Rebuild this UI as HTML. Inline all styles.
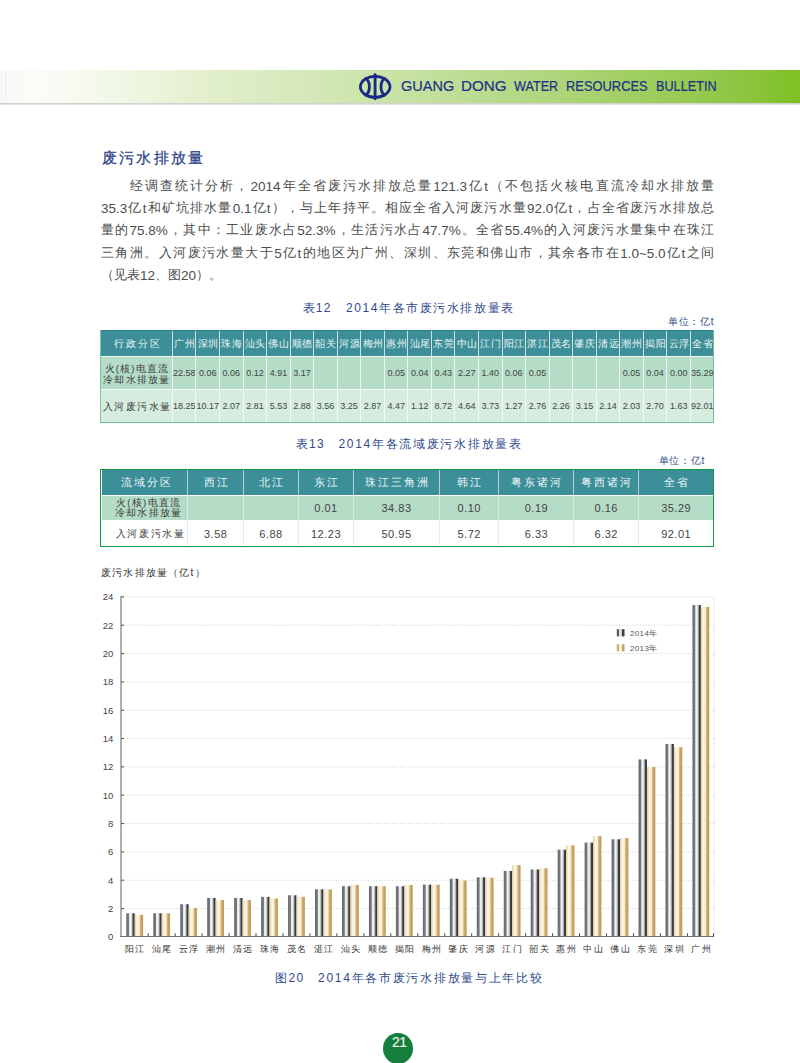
<!DOCTYPE html><html><head><meta charset="utf-8"><style>
*{margin:0;padding:0;box-sizing:border-box}
html,body{width:800px;height:1063px;overflow:hidden;background:#fff}
body{position:relative;font-family:"Liberation Sans",sans-serif;color:#4a4a4a}
.abs{position:absolute}
.band{left:0;top:70px;width:800px;height:33px;
 background:linear-gradient(90deg,#f7f8f5 0%,#fbfcf8 4%,#f2f8e8 14%,#e2efcc 26%,#d6e9bb 37%,#c8e2a4 50%,#b4d886 65%,#a0ce60 80%,#8ec644 92%,#7fc022 100%);}
.bandsh{left:0;top:102.5px;width:800px;height:2.5px;background:linear-gradient(#c8c8c8,#eeeeee)}
.brand{top:78px;font-size:14.5px;color:#1d3184;white-space:nowrap;-webkit-text-stroke:0.2px #1d3184}
.h1{left:101.5px;top:148.5px;font-size:15px;color:#2b3f8c;letter-spacing:2.35px;white-space:nowrap;-webkit-text-stroke:0.25px #2b3f8c}
.para{left:101px;width:613px;font-size:12.5px;color:#4d4d4d;white-space:nowrap}
.line{position:absolute;left:0;width:613px;text-align:justify;text-align-last:justify;height:20px;line-height:20px}
.lat{font-size:13.5px;vertical-align:-0.5px}
.cap{font-size:12px;color:#2f4a8c;white-space:nowrap;letter-spacing:0.8px}
.unit{font-size:10px;color:#2f4a8c;white-space:nowrap;letter-spacing:0.7px}
.c{position:absolute;display:flex;align-items:center;justify-content:center;text-align:center;white-space:nowrap}
.th{color:#eaf6f6;font-size:10.5px;letter-spacing:0.5px}
.td{color:#444;font-size:9px}
.lab{color:#3a3a3a;font-size:10px;line-height:10.5px;letter-spacing:0.6px}
.ax{font-size:9px;color:#333;white-space:nowrap}
</style></head><body><div class="abs band"></div><div class="abs bandsh"></div><div class="abs" style="left:7px;top:73px;width:1.2px;height:29px;background:#ffffff"></div><div class="abs" style="left:6px;top:73px;width:1px;height:29px;background:#ececec"></div>
<svg class="abs" style="left:355px;top:70px" width="42" height="33" viewBox="355 70 42 33">
<g fill="none" stroke="#1b2a86" stroke-width="2.85" stroke-linecap="round">
<ellipse cx="375.2" cy="86.8" rx="14.8" ry="10.5"/>
<line x1="375.1" y1="74.6" x2="375.1" y2="98.8"/>
<path d="M365.8,78.6 C370.6,81.5 370.6,92.1 365.8,95.0"/>
<path d="M384.6,78.6 C379.8,81.5 379.8,92.1 384.6,95.0"/>
</g></svg>
<div class="abs brand" style="left:401px;transform:scaleX(1.0);transform-origin:0 0">GUANG</div>
<div class="abs brand" style="left:461px;transform:scaleX(1.048);transform-origin:0 0">DONG</div>
<div class="abs brand" style="left:514px;transform:scaleX(0.871);transform-origin:0 0">WATER</div>
<div class="abs brand" style="left:565.7px;transform:scaleX(0.889);transform-origin:0 0">RESOURCES</div>
<div class="abs brand" style="left:655.5px;transform:scaleX(0.874);transform-origin:0 0">BULLETIN</div>
<div class="abs h1">废污水排放量</div>
<div class="abs para" style="top:175.8px">
<div class="line" style="top:0.0px;left:29px;width:584px">经调查统计分析，<span class="lat">2014</span>年全省废污水排放总量<span class="lat">121.3</span>亿<span class="lat">t</span>（不包括火核电直流冷却水排放量</div>
<div class="line" style="top:22.3px"><span class="lat">35.3</span>亿<span class="lat">t</span>和矿坑排水量<span class="lat">0.1</span>亿<span class="lat">t</span>），与上年持平。相应全省入河废污水量<span class="lat">92.0</span>亿<span class="lat">t</span>，占全省废污水排放总</div>
<div class="line" style="top:44.6px">量的<span class="lat">75.8%</span>，其中：工业废水占<span class="lat">52.3%</span>，生活污水占<span class="lat">47.7%</span>。全省<span class="lat">55.4%</span>的入河废污水量集中在珠江</div>
<div class="line" style="top:66.9px">三角洲。入河废污水量大于<span class="lat">5</span>亿<span class="lat">t</span>的地区为广州、深圳、东莞和佛山市，其余各市在<span class="lat">1.0~5.0</span>亿<span class="lat">t</span>之间</div>
<div class="line" style="top:89.2px;text-align-last:left">（见表<span class="lat">12</span>、图<span class="lat">20</span>）。</div>
</div>
<div class="abs cap" style="left:302.5px;top:299.5px;letter-spacing:1.3px">表12</div>
<div class="abs cap" style="left:346px;top:299.5px;letter-spacing:1.58px">2014年各市废污水排放量表</div>
<div class="abs unit" style="right:85.7px;top:315px">单位：亿t</div>
<div class="abs" style="left:100px;top:329.5px;width:614px;height:26.80000000000001px;background:#3c8e98;border-top:1px solid #2e7e86"></div>
<div class="abs" style="left:100px;top:356.3px;width:614px;height:33.0px;background:#b4dcc6;border-top:1.5px solid #eef6ee"></div>
<div class="abs" style="left:100px;top:389.3px;width:614px;height:33.30000000000001px;background:#d6ecdf;border-top:1px solid #f0f8f2;border-bottom:1px solid #6bbf9f"></div>
<div class="abs" style="left:100px;top:329.5px;width:1px;height:93.10000000000002px;background:#7cc79a"></div>
<div class="abs" style="left:713px;top:329.5px;width:1px;height:93.10000000000002px;background:#6fbfa0"></div>
<div class="c th" style="left:100px;top:329.5px;width:72.5px;height:26.80000000000001px;font-size:10px;letter-spacing:2px;padding:2px 0 0 3px">行政分区</div>
<div class="c lab" style="left:100px;top:356.3px;width:72.5px;height:33.0px;flex-direction:column;font-size:9.6px;line-height:11.3px;letter-spacing:1.15px;padding:2.5px 0 0 1px">火(核)电直流<br>冷却水排放量</div>
<div class="c lab" style="left:100px;top:389.3px;width:72.5px;height:33.30000000000001px;font-size:9.8px;letter-spacing:1.45px;padding:3px 0 0 2px">入河废污水量</div>
<div class="abs" style="left:171.90px;top:330.5px;width:1px;height:91.60000000000002px;background:rgba(255,255,255,0.75)"></div>
<div class="c th" style="left:172.50px;top:329.5px;width:23.54px;height:26.80000000000001px;font-size:10px;letter-spacing:0.6px;padding:2px 0 0 1px">广州</div>
<div class="c td" style="left:172.50px;top:356.3px;width:23.54px;height:33.0px">22.58</div>
<div class="c td" style="left:172.50px;top:389.3px;width:23.54px;height:33.30000000000001px">18.25</div>
<div class="abs" style="left:195.44px;top:330.5px;width:1px;height:91.60000000000002px;background:rgba(255,255,255,0.75)"></div>
<div class="c th" style="left:196.04px;top:329.5px;width:23.54px;height:26.80000000000001px;font-size:10px;letter-spacing:0.6px;padding:2px 0 0 1px">深圳</div>
<div class="c td" style="left:196.04px;top:356.3px;width:23.54px;height:33.0px">0.06</div>
<div class="c td" style="left:196.04px;top:389.3px;width:23.54px;height:33.30000000000001px">10.17</div>
<div class="abs" style="left:218.99px;top:330.5px;width:1px;height:91.60000000000002px;background:rgba(255,255,255,0.75)"></div>
<div class="c th" style="left:219.59px;top:329.5px;width:23.54px;height:26.80000000000001px;font-size:10px;letter-spacing:0.6px;padding:2px 0 0 1px">珠海</div>
<div class="c td" style="left:219.59px;top:356.3px;width:23.54px;height:33.0px">0.06</div>
<div class="c td" style="left:219.59px;top:389.3px;width:23.54px;height:33.30000000000001px">2.07</div>
<div class="abs" style="left:242.53px;top:330.5px;width:1px;height:91.60000000000002px;background:rgba(255,255,255,0.75)"></div>
<div class="c th" style="left:243.13px;top:329.5px;width:23.54px;height:26.80000000000001px;font-size:10px;letter-spacing:0.6px;padding:2px 0 0 1px">汕头</div>
<div class="c td" style="left:243.13px;top:356.3px;width:23.54px;height:33.0px">0.12</div>
<div class="c td" style="left:243.13px;top:389.3px;width:23.54px;height:33.30000000000001px">2.81</div>
<div class="abs" style="left:266.07px;top:330.5px;width:1px;height:91.60000000000002px;background:rgba(255,255,255,0.75)"></div>
<div class="c th" style="left:266.67px;top:329.5px;width:23.54px;height:26.80000000000001px;font-size:10px;letter-spacing:0.6px;padding:2px 0 0 1px">佛山</div>
<div class="c td" style="left:266.67px;top:356.3px;width:23.54px;height:33.0px">4.91</div>
<div class="c td" style="left:266.67px;top:389.3px;width:23.54px;height:33.30000000000001px">5.53</div>
<div class="abs" style="left:289.62px;top:330.5px;width:1px;height:91.60000000000002px;background:rgba(255,255,255,0.75)"></div>
<div class="c th" style="left:290.22px;top:329.5px;width:23.54px;height:26.80000000000001px;font-size:10px;letter-spacing:0.6px;padding:2px 0 0 1px">顺德</div>
<div class="c td" style="left:290.22px;top:356.3px;width:23.54px;height:33.0px">3.17</div>
<div class="c td" style="left:290.22px;top:389.3px;width:23.54px;height:33.30000000000001px">2.88</div>
<div class="abs" style="left:313.16px;top:330.5px;width:1px;height:91.60000000000002px;background:rgba(255,255,255,0.75)"></div>
<div class="c th" style="left:313.76px;top:329.5px;width:23.54px;height:26.80000000000001px;font-size:10px;letter-spacing:0.6px;padding:2px 0 0 1px">韶关</div>
<div class="c td" style="left:313.76px;top:389.3px;width:23.54px;height:33.30000000000001px">3.56</div>
<div class="abs" style="left:336.70px;top:330.5px;width:1px;height:91.60000000000002px;background:rgba(255,255,255,0.75)"></div>
<div class="c th" style="left:337.30px;top:329.5px;width:23.54px;height:26.80000000000001px;font-size:10px;letter-spacing:0.6px;padding:2px 0 0 1px">河源</div>
<div class="c td" style="left:337.30px;top:389.3px;width:23.54px;height:33.30000000000001px">3.25</div>
<div class="abs" style="left:360.25px;top:330.5px;width:1px;height:91.60000000000002px;background:rgba(255,255,255,0.75)"></div>
<div class="c th" style="left:360.85px;top:329.5px;width:23.54px;height:26.80000000000001px;font-size:10px;letter-spacing:0.6px;padding:2px 0 0 1px">梅州</div>
<div class="c td" style="left:360.85px;top:389.3px;width:23.54px;height:33.30000000000001px">2.87</div>
<div class="abs" style="left:383.79px;top:330.5px;width:1px;height:91.60000000000002px;background:rgba(255,255,255,0.75)"></div>
<div class="c th" style="left:384.39px;top:329.5px;width:23.54px;height:26.80000000000001px;font-size:10px;letter-spacing:0.6px;padding:2px 0 0 1px">惠州</div>
<div class="c td" style="left:384.39px;top:356.3px;width:23.54px;height:33.0px">0.05</div>
<div class="c td" style="left:384.39px;top:389.3px;width:23.54px;height:33.30000000000001px">4.47</div>
<div class="abs" style="left:407.33px;top:330.5px;width:1px;height:91.60000000000002px;background:rgba(255,255,255,0.75)"></div>
<div class="c th" style="left:407.93px;top:329.5px;width:23.54px;height:26.80000000000001px;font-size:10px;letter-spacing:0.6px;padding:2px 0 0 1px">汕尾</div>
<div class="c td" style="left:407.93px;top:356.3px;width:23.54px;height:33.0px">0.04</div>
<div class="c td" style="left:407.93px;top:389.3px;width:23.54px;height:33.30000000000001px">1.12</div>
<div class="abs" style="left:430.88px;top:330.5px;width:1px;height:91.60000000000002px;background:rgba(255,255,255,0.75)"></div>
<div class="c th" style="left:431.48px;top:329.5px;width:23.54px;height:26.80000000000001px;font-size:10px;letter-spacing:0.6px;padding:2px 0 0 1px">东莞</div>
<div class="c td" style="left:431.48px;top:356.3px;width:23.54px;height:33.0px">0.43</div>
<div class="c td" style="left:431.48px;top:389.3px;width:23.54px;height:33.30000000000001px">8.72</div>
<div class="abs" style="left:454.42px;top:330.5px;width:1px;height:91.60000000000002px;background:rgba(255,255,255,0.75)"></div>
<div class="c th" style="left:455.02px;top:329.5px;width:23.54px;height:26.80000000000001px;font-size:10px;letter-spacing:0.6px;padding:2px 0 0 1px">中山</div>
<div class="c td" style="left:455.02px;top:356.3px;width:23.54px;height:33.0px">2.27</div>
<div class="c td" style="left:455.02px;top:389.3px;width:23.54px;height:33.30000000000001px">4.64</div>
<div class="abs" style="left:477.97px;top:330.5px;width:1px;height:91.60000000000002px;background:rgba(255,255,255,0.75)"></div>
<div class="c th" style="left:478.57px;top:329.5px;width:23.54px;height:26.80000000000001px;font-size:10px;letter-spacing:0.6px;padding:2px 0 0 1px">江门</div>
<div class="c td" style="left:478.57px;top:356.3px;width:23.54px;height:33.0px">1.40</div>
<div class="c td" style="left:478.57px;top:389.3px;width:23.54px;height:33.30000000000001px">3.73</div>
<div class="abs" style="left:501.51px;top:330.5px;width:1px;height:91.60000000000002px;background:rgba(255,255,255,0.75)"></div>
<div class="c th" style="left:502.11px;top:329.5px;width:23.54px;height:26.80000000000001px;font-size:10px;letter-spacing:0.6px;padding:2px 0 0 1px">阳江</div>
<div class="c td" style="left:502.11px;top:356.3px;width:23.54px;height:33.0px">0.06</div>
<div class="c td" style="left:502.11px;top:389.3px;width:23.54px;height:33.30000000000001px">1.27</div>
<div class="abs" style="left:525.05px;top:330.5px;width:1px;height:91.60000000000002px;background:rgba(255,255,255,0.75)"></div>
<div class="c th" style="left:525.65px;top:329.5px;width:23.54px;height:26.80000000000001px;font-size:10px;letter-spacing:0.6px;padding:2px 0 0 1px">湛江</div>
<div class="c td" style="left:525.65px;top:356.3px;width:23.54px;height:33.0px">0.05</div>
<div class="c td" style="left:525.65px;top:389.3px;width:23.54px;height:33.30000000000001px">2.76</div>
<div class="abs" style="left:548.60px;top:330.5px;width:1px;height:91.60000000000002px;background:rgba(255,255,255,0.75)"></div>
<div class="c th" style="left:549.20px;top:329.5px;width:23.54px;height:26.80000000000001px;font-size:10px;letter-spacing:0.6px;padding:2px 0 0 1px">茂名</div>
<div class="c td" style="left:549.20px;top:389.3px;width:23.54px;height:33.30000000000001px">2.26</div>
<div class="abs" style="left:572.14px;top:330.5px;width:1px;height:91.60000000000002px;background:rgba(255,255,255,0.75)"></div>
<div class="c th" style="left:572.74px;top:329.5px;width:23.54px;height:26.80000000000001px;font-size:10px;letter-spacing:0.6px;padding:2px 0 0 1px">肇庆</div>
<div class="c td" style="left:572.74px;top:389.3px;width:23.54px;height:33.30000000000001px">3.15</div>
<div class="abs" style="left:595.68px;top:330.5px;width:1px;height:91.60000000000002px;background:rgba(255,255,255,0.75)"></div>
<div class="c th" style="left:596.28px;top:329.5px;width:23.54px;height:26.80000000000001px;font-size:10px;letter-spacing:0.6px;padding:2px 0 0 1px">清远</div>
<div class="c td" style="left:596.28px;top:389.3px;width:23.54px;height:33.30000000000001px">2.14</div>
<div class="abs" style="left:619.23px;top:330.5px;width:1px;height:91.60000000000002px;background:rgba(255,255,255,0.75)"></div>
<div class="c th" style="left:619.83px;top:329.5px;width:23.54px;height:26.80000000000001px;font-size:10px;letter-spacing:0.6px;padding:2px 0 0 1px">潮州</div>
<div class="c td" style="left:619.83px;top:356.3px;width:23.54px;height:33.0px">0.05</div>
<div class="c td" style="left:619.83px;top:389.3px;width:23.54px;height:33.30000000000001px">2.03</div>
<div class="abs" style="left:642.77px;top:330.5px;width:1px;height:91.60000000000002px;background:rgba(255,255,255,0.75)"></div>
<div class="c th" style="left:643.37px;top:329.5px;width:23.54px;height:26.80000000000001px;font-size:10px;letter-spacing:0.6px;padding:2px 0 0 1px">揭阳</div>
<div class="c td" style="left:643.37px;top:356.3px;width:23.54px;height:33.0px">0.04</div>
<div class="c td" style="left:643.37px;top:389.3px;width:23.54px;height:33.30000000000001px">2.70</div>
<div class="abs" style="left:666.31px;top:330.5px;width:1px;height:91.60000000000002px;background:rgba(255,255,255,0.75)"></div>
<div class="c th" style="left:666.91px;top:329.5px;width:23.54px;height:26.80000000000001px;font-size:10px;letter-spacing:0.6px;padding:2px 0 0 1px">云浮</div>
<div class="c td" style="left:666.91px;top:356.3px;width:23.54px;height:33.0px">0.00</div>
<div class="c td" style="left:666.91px;top:389.3px;width:23.54px;height:33.30000000000001px">1.63</div>
<div class="abs" style="left:689.86px;top:330.5px;width:1px;height:91.60000000000002px;background:rgba(255,255,255,0.75)"></div>
<div class="c th" style="left:690.46px;top:329.5px;width:23.54px;height:26.80000000000001px;font-size:10px;letter-spacing:0.6px;padding:2px 0 0 1px">全省</div>
<div class="c td" style="left:690.46px;top:356.3px;width:23.54px;height:33.0px">35.29</div>
<div class="c td" style="left:690.46px;top:389.3px;width:23.54px;height:33.30000000000001px">92.01</div>
<div class="abs cap" style="left:295.6px;top:436px;letter-spacing:1.35px">表13</div>
<div class="abs cap" style="left:338.5px;top:436px;letter-spacing:1.7px">2014年各流域废污水排放量表</div>
<div class="abs unit" style="right:95px;top:454px">单位：亿t</div>
<div class="abs" style="left:100px;top:468.5px;width:614px;height:78.25px;border:1.6px solid #0e9a45;background:#fff"></div>
<div class="abs" style="left:101.5px;top:470.0px;width:611px;height:24.5px;background:#3c8e98"></div>
<div class="abs" style="left:101.5px;top:496.0px;width:611px;height:24.0px;background:#b4dcc6"></div>
<div class="c th" style="left:100px;top:468.5px;width:87.4px;height:26.0px;font-size:11px;letter-spacing:2px;padding:2px 0 0 6px">流域分区</div>
<div class="c lab" style="left:100px;top:494.5px;width:87.4px;height:25.5px;flex-direction:column;line-height:10px;font-size:9.6px;letter-spacing:1.3px;padding:2px 0 0 10px">火(核)电直流<br>冷却水排放量</div>
<div class="c lab" style="left:100px;top:520px;width:87.4px;height:26.75px;font-size:9.6px;letter-spacing:1.6px;padding:1px 0 0 14px">入河废污水量</div>
<div class="abs" style="left:186.9px;top:470.0px;width:1px;height:24.5px;background:rgba(255,255,255,0.6)"></div>
<div class="abs" style="left:186.9px;top:496.0px;width:1px;height:49.25px;background:rgba(225,235,230,0.9)"></div>
<div class="c th" style="left:187.4px;top:468.5px;width:55.599999999999994px;height:26.0px;font-size:11px;letter-spacing:2px;padding:2px 0 0 3px">西江</div>
<div class="c td" style="left:187.4px;top:520px;width:55.599999999999994px;height:26.75px;font-size:11px;letter-spacing:0.5px;padding:1px 0 0 1px">3.58</div>
<div class="abs" style="left:242.5px;top:470.0px;width:1px;height:24.5px;background:rgba(255,255,255,0.6)"></div>
<div class="abs" style="left:242.5px;top:496.0px;width:1px;height:49.25px;background:rgba(225,235,230,0.9)"></div>
<div class="c th" style="left:243px;top:468.5px;width:55px;height:26.0px;font-size:11px;letter-spacing:2px;padding:2px 0 0 3px">北江</div>
<div class="c td" style="left:243px;top:520px;width:55px;height:26.75px;font-size:11px;letter-spacing:0.5px;padding:1px 0 0 1px">6.88</div>
<div class="abs" style="left:297.5px;top:470.0px;width:1px;height:24.5px;background:rgba(255,255,255,0.6)"></div>
<div class="abs" style="left:297.5px;top:496.0px;width:1px;height:49.25px;background:rgba(225,235,230,0.9)"></div>
<div class="c th" style="left:298px;top:468.5px;width:55px;height:26.0px;font-size:11px;letter-spacing:2px;padding:2px 0 0 3px">东江</div>
<div class="c td" style="left:298px;top:494.5px;width:55px;height:25.5px;font-size:11px;letter-spacing:0.5px;padding:2px 0 0 1px">0.01</div>
<div class="c td" style="left:298px;top:520px;width:55px;height:26.75px;font-size:11px;letter-spacing:0.5px;padding:1px 0 0 1px">12.23</div>
<div class="abs" style="left:352.5px;top:470.0px;width:1px;height:24.5px;background:rgba(255,255,255,0.6)"></div>
<div class="abs" style="left:352.5px;top:496.0px;width:1px;height:49.25px;background:rgba(225,235,230,0.9)"></div>
<div class="c th" style="left:353px;top:468.5px;width:86px;height:26.0px;font-size:11px;letter-spacing:2px;padding:2px 0 0 3px">珠江三角洲</div>
<div class="c td" style="left:353px;top:494.5px;width:86px;height:25.5px;font-size:11px;letter-spacing:0.5px;padding:2px 0 0 1px">34.83</div>
<div class="c td" style="left:353px;top:520px;width:86px;height:26.75px;font-size:11px;letter-spacing:0.5px;padding:1px 0 0 1px">50.95</div>
<div class="abs" style="left:438.5px;top:470.0px;width:1px;height:24.5px;background:rgba(255,255,255,0.6)"></div>
<div class="abs" style="left:438.5px;top:496.0px;width:1px;height:49.25px;background:rgba(225,235,230,0.9)"></div>
<div class="c th" style="left:439px;top:468.5px;width:59.60000000000002px;height:26.0px;font-size:11px;letter-spacing:2px;padding:2px 0 0 3px">韩江</div>
<div class="c td" style="left:439px;top:494.5px;width:59.60000000000002px;height:25.5px;font-size:11px;letter-spacing:0.5px;padding:2px 0 0 1px">0.10</div>
<div class="c td" style="left:439px;top:520px;width:59.60000000000002px;height:26.75px;font-size:11px;letter-spacing:0.5px;padding:1px 0 0 1px">5.72</div>
<div class="abs" style="left:498.1px;top:470.0px;width:1px;height:24.5px;background:rgba(255,255,255,0.6)"></div>
<div class="abs" style="left:498.1px;top:496.0px;width:1px;height:49.25px;background:rgba(225,235,230,0.9)"></div>
<div class="c th" style="left:498.6px;top:468.5px;width:74.69999999999993px;height:26.0px;font-size:11px;letter-spacing:2px;padding:2px 0 0 3px">粤东诸河</div>
<div class="c td" style="left:498.6px;top:494.5px;width:74.69999999999993px;height:25.5px;font-size:11px;letter-spacing:0.5px;padding:2px 0 0 1px">0.19</div>
<div class="c td" style="left:498.6px;top:520px;width:74.69999999999993px;height:26.75px;font-size:11px;letter-spacing:0.5px;padding:1px 0 0 1px">6.33</div>
<div class="abs" style="left:572.8px;top:470.0px;width:1px;height:24.5px;background:rgba(255,255,255,0.6)"></div>
<div class="abs" style="left:572.8px;top:496.0px;width:1px;height:49.25px;background:rgba(225,235,230,0.9)"></div>
<div class="c th" style="left:573.3px;top:468.5px;width:65.0px;height:26.0px;font-size:11px;letter-spacing:2px;padding:2px 0 0 3px">粤西诸河</div>
<div class="c td" style="left:573.3px;top:494.5px;width:65.0px;height:25.5px;font-size:11px;letter-spacing:0.5px;padding:2px 0 0 1px">0.16</div>
<div class="c td" style="left:573.3px;top:520px;width:65.0px;height:26.75px;font-size:11px;letter-spacing:0.5px;padding:1px 0 0 1px">6.32</div>
<div class="abs" style="left:637.8px;top:470.0px;width:1px;height:24.5px;background:rgba(255,255,255,0.6)"></div>
<div class="abs" style="left:637.8px;top:496.0px;width:1px;height:49.25px;background:rgba(225,235,230,0.9)"></div>
<div class="c th" style="left:638.3px;top:468.5px;width:74.70000000000005px;height:26.0px;font-size:11px;letter-spacing:2px;padding:2px 0 0 3px">全省</div>
<div class="c td" style="left:638.3px;top:494.5px;width:74.70000000000005px;height:25.5px;font-size:11px;letter-spacing:0.5px;padding:2px 0 0 1px">35.29</div>
<div class="c td" style="left:638.3px;top:520px;width:74.70000000000005px;height:26.75px;font-size:11px;letter-spacing:0.5px;padding:1px 0 0 1px">92.01</div>
<div class="abs ax" style="left:101px;top:566px;font-size:10px;letter-spacing:1.2px">废污水排放量（亿t）</div>
<svg class="abs" style="left:0;top:0" width="800" height="1063" viewBox="0 0 800 1063">
<defs>
<linearGradient id="g14" x1="0" x2="1" y1="0" y2="0">
<stop offset="0" stop-color="#66696d"/><stop offset="0.28" stop-color="#76797d"/><stop offset="0.38" stop-color="#e6e6e6"/><stop offset="0.5" stop-color="#f8f8f8"/><stop offset="0.62" stop-color="#d0d4d8"/><stop offset="0.72" stop-color="#9aa0a6"/><stop offset="0.82" stop-color="#3c3e40"/><stop offset="1" stop-color="#303234"/>
</linearGradient>
<linearGradient id="g13" x1="0" x2="1" y1="0" y2="0">
<stop offset="0" stop-color="#e4c98e"/><stop offset="0.14" stop-color="#f0e0bc"/><stop offset="0.3" stop-color="#fcf8ee"/><stop offset="0.55" stop-color="#f4ead4"/><stop offset="0.68" stop-color="#d4b376"/><stop offset="0.8" stop-color="#c8a25e"/><stop offset="1" stop-color="#bf9a58"/>
</linearGradient>
</defs>
<line x1="125" y1="908.57" x2="714" y2="908.57" stroke="#c4d2d2" stroke-width="1" stroke-dasharray="1 1.67"/>
<line x1="121.0" y1="908.57" x2="124.0" y2="908.57" stroke="#555" stroke-width="1.1"/>
<line x1="125" y1="880.23" x2="714" y2="880.23" stroke="#c4d2d2" stroke-width="1" stroke-dasharray="1 1.67"/>
<line x1="121.0" y1="880.23" x2="124.0" y2="880.23" stroke="#555" stroke-width="1.1"/>
<line x1="125" y1="851.90" x2="714" y2="851.90" stroke="#c4d2d2" stroke-width="1" stroke-dasharray="1 1.67"/>
<line x1="121.0" y1="851.90" x2="124.0" y2="851.90" stroke="#555" stroke-width="1.1"/>
<line x1="125" y1="823.56" x2="714" y2="823.56" stroke="#c4d2d2" stroke-width="1" stroke-dasharray="1 1.67"/>
<line x1="121.0" y1="823.56" x2="124.0" y2="823.56" stroke="#555" stroke-width="1.1"/>
<line x1="125" y1="795.23" x2="714" y2="795.23" stroke="#c4d2d2" stroke-width="1" stroke-dasharray="1 1.67"/>
<line x1="121.0" y1="795.23" x2="124.0" y2="795.23" stroke="#555" stroke-width="1.1"/>
<line x1="125" y1="766.90" x2="714" y2="766.90" stroke="#c4d2d2" stroke-width="1" stroke-dasharray="1 1.67"/>
<line x1="121.0" y1="766.90" x2="124.0" y2="766.90" stroke="#555" stroke-width="1.1"/>
<line x1="125" y1="738.56" x2="714" y2="738.56" stroke="#c4d2d2" stroke-width="1" stroke-dasharray="1 1.67"/>
<line x1="121.0" y1="738.56" x2="124.0" y2="738.56" stroke="#555" stroke-width="1.1"/>
<line x1="125" y1="710.23" x2="714" y2="710.23" stroke="#c4d2d2" stroke-width="1" stroke-dasharray="1 1.67"/>
<line x1="121.0" y1="710.23" x2="124.0" y2="710.23" stroke="#555" stroke-width="1.1"/>
<line x1="125" y1="681.89" x2="714" y2="681.89" stroke="#c4d2d2" stroke-width="1" stroke-dasharray="1 1.67"/>
<line x1="121.0" y1="681.89" x2="124.0" y2="681.89" stroke="#555" stroke-width="1.1"/>
<line x1="125" y1="653.56" x2="714" y2="653.56" stroke="#c4d2d2" stroke-width="1" stroke-dasharray="1 1.67"/>
<line x1="121.0" y1="653.56" x2="124.0" y2="653.56" stroke="#555" stroke-width="1.1"/>
<line x1="125" y1="625.23" x2="714" y2="625.23" stroke="#c4d2d2" stroke-width="1" stroke-dasharray="1 1.67"/>
<line x1="121.0" y1="625.23" x2="124.0" y2="625.23" stroke="#555" stroke-width="1.1"/>
<line x1="125" y1="596.89" x2="714" y2="596.89" stroke="#c4d2d2" stroke-width="1" stroke-dasharray="1 1.67"/>
<line x1="121.0" y1="596.89" x2="124.0" y2="596.89" stroke="#555" stroke-width="1.1"/>
<line x1="714" y1="596.49" x2="714" y2="936.5" stroke="#c4d2d2" stroke-width="1" stroke-dasharray="1 1.67"/>
<rect x="126.30" y="913.27" width="8.4" height="23.23" fill="url(#g14)"/>
<rect x="134.70" y="914.97" width="8.4" height="21.53" fill="url(#g13)"/>
<line x1="148.18" y1="933.2" x2="148.18" y2="936.5" stroke="#444" stroke-width="1"/>
<rect x="153.26" y="913.27" width="8.4" height="23.23" fill="url(#g14)"/>
<rect x="161.66" y="913.27" width="8.4" height="23.23" fill="url(#g13)"/>
<line x1="175.14" y1="933.2" x2="175.14" y2="936.5" stroke="#444" stroke-width="1"/>
<rect x="180.22" y="904.20" width="8.4" height="32.30" fill="url(#g14)"/>
<rect x="188.62" y="908.02" width="8.4" height="28.48" fill="url(#g13)"/>
<line x1="202.10" y1="933.2" x2="202.10" y2="936.5" stroke="#444" stroke-width="1"/>
<rect x="207.18" y="897.97" width="8.4" height="38.53" fill="url(#g14)"/>
<rect x="215.58" y="899.95" width="8.4" height="36.55" fill="url(#g13)"/>
<line x1="229.06" y1="933.2" x2="229.06" y2="936.5" stroke="#444" stroke-width="1"/>
<rect x="234.14" y="897.97" width="8.4" height="38.53" fill="url(#g14)"/>
<rect x="242.54" y="899.95" width="8.4" height="36.55" fill="url(#g13)"/>
<line x1="256.02" y1="933.2" x2="256.02" y2="936.5" stroke="#444" stroke-width="1"/>
<rect x="261.10" y="896.83" width="8.4" height="39.67" fill="url(#g14)"/>
<rect x="269.50" y="898.53" width="8.4" height="37.97" fill="url(#g13)"/>
<line x1="282.98" y1="933.2" x2="282.98" y2="936.5" stroke="#444" stroke-width="1"/>
<rect x="288.06" y="895.27" width="8.4" height="41.23" fill="url(#g14)"/>
<rect x="296.46" y="896.83" width="8.4" height="39.67" fill="url(#g13)"/>
<line x1="309.94" y1="933.2" x2="309.94" y2="936.5" stroke="#444" stroke-width="1"/>
<rect x="315.02" y="889.32" width="8.4" height="47.18" fill="url(#g14)"/>
<rect x="323.42" y="889.32" width="8.4" height="47.18" fill="url(#g13)"/>
<line x1="336.90" y1="933.2" x2="336.90" y2="936.5" stroke="#444" stroke-width="1"/>
<rect x="341.98" y="886.21" width="8.4" height="50.29" fill="url(#g14)"/>
<rect x="350.38" y="884.93" width="8.4" height="51.57" fill="url(#g13)"/>
<line x1="363.86" y1="933.2" x2="363.86" y2="936.5" stroke="#444" stroke-width="1"/>
<rect x="368.94" y="886.21" width="8.4" height="50.29" fill="url(#g14)"/>
<rect x="377.34" y="886.21" width="8.4" height="50.29" fill="url(#g13)"/>
<line x1="390.82" y1="933.2" x2="390.82" y2="936.5" stroke="#444" stroke-width="1"/>
<rect x="395.90" y="886.21" width="8.4" height="50.29" fill="url(#g14)"/>
<rect x="404.30" y="884.93" width="8.4" height="51.57" fill="url(#g13)"/>
<line x1="417.78" y1="933.2" x2="417.78" y2="936.5" stroke="#444" stroke-width="1"/>
<rect x="422.86" y="884.65" width="8.4" height="51.85" fill="url(#g14)"/>
<rect x="431.26" y="884.79" width="8.4" height="51.71" fill="url(#g13)"/>
<line x1="444.74" y1="933.2" x2="444.74" y2="936.5" stroke="#444" stroke-width="1"/>
<rect x="449.82" y="878.70" width="8.4" height="57.80" fill="url(#g14)"/>
<rect x="458.22" y="880.54" width="8.4" height="55.96" fill="url(#g13)"/>
<line x1="471.70" y1="933.2" x2="471.70" y2="936.5" stroke="#444" stroke-width="1"/>
<rect x="476.78" y="877.28" width="8.4" height="59.22" fill="url(#g14)"/>
<rect x="485.18" y="877.71" width="8.4" height="58.79" fill="url(#g13)"/>
<line x1="498.66" y1="933.2" x2="498.66" y2="936.5" stroke="#444" stroke-width="1"/>
<rect x="503.74" y="870.91" width="8.4" height="65.59" fill="url(#g14)"/>
<rect x="512.14" y="865.10" width="8.4" height="71.40" fill="url(#g13)"/>
<line x1="525.62" y1="933.2" x2="525.62" y2="936.5" stroke="#444" stroke-width="1"/>
<rect x="530.70" y="869.49" width="8.4" height="67.01" fill="url(#g14)"/>
<rect x="539.10" y="868.22" width="8.4" height="68.28" fill="url(#g13)"/>
<line x1="552.58" y1="933.2" x2="552.58" y2="936.5" stroke="#444" stroke-width="1"/>
<rect x="557.66" y="849.66" width="8.4" height="86.84" fill="url(#g14)"/>
<rect x="566.06" y="845.26" width="8.4" height="91.24" fill="url(#g13)"/>
<line x1="579.54" y1="933.2" x2="579.54" y2="936.5" stroke="#444" stroke-width="1"/>
<rect x="584.62" y="842.57" width="8.4" height="93.93" fill="url(#g14)"/>
<rect x="593.02" y="836.20" width="8.4" height="100.30" fill="url(#g13)"/>
<line x1="606.50" y1="933.2" x2="606.50" y2="936.5" stroke="#444" stroke-width="1"/>
<rect x="611.58" y="839.31" width="8.4" height="97.19" fill="url(#g14)"/>
<rect x="619.98" y="838.04" width="8.4" height="98.46" fill="url(#g13)"/>
<line x1="633.46" y1="933.2" x2="633.46" y2="936.5" stroke="#444" stroke-width="1"/>
<rect x="638.54" y="759.41" width="8.4" height="177.09" fill="url(#g14)"/>
<rect x="646.94" y="766.92" width="8.4" height="169.58" fill="url(#g13)"/>
<line x1="660.42" y1="933.2" x2="660.42" y2="936.5" stroke="#444" stroke-width="1"/>
<rect x="665.50" y="743.97" width="8.4" height="192.53" fill="url(#g14)"/>
<rect x="673.90" y="747.23" width="8.4" height="189.27" fill="url(#g13)"/>
<line x1="687.38" y1="933.2" x2="687.38" y2="936.5" stroke="#444" stroke-width="1"/>
<rect x="692.46" y="604.99" width="8.4" height="331.51" fill="url(#g14)"/>
<rect x="700.86" y="606.83" width="8.4" height="329.67" fill="url(#g13)"/>
<line x1="713.50" y1="933.2" x2="713.50" y2="936.5" stroke="#444" stroke-width="1"/>
<line x1="121.0" y1="595.99" x2="121.0" y2="937.1" stroke="#7a7a7a" stroke-width="1.2"/>
<line x1="120.3" y1="936.5" x2="714" y2="936.5" stroke="#6e6e6e" stroke-width="1.1"/>
<rect x="616.8" y="629.2" width="2.5" height="7.2" fill="#555a5e"/><rect x="619.3" y="629.2" width="2.5" height="7.2" fill="#e4e6e8"/><rect x="621.8" y="629.2" width="2.7" height="7.2" fill="#3e4042"/>
<rect x="616.8" y="644.2" width="2.3" height="7.2" fill="#d0aa5e"/><rect x="619.1" y="644.2" width="2.8" height="7.2" fill="#faf6ee"/><rect x="621.9" y="644.2" width="2.6" height="7.2" fill="#c9a25a"/>
</svg>
<div class="abs ax" style="right:686.7px;top:931.20px;line-height:12px;font-size:9.5px;color:#444">0</div>
<div class="abs ax" style="right:686.7px;top:902.87px;line-height:12px;font-size:9.5px;color:#444">2</div>
<div class="abs ax" style="right:686.7px;top:874.53px;line-height:12px;font-size:9.5px;color:#444">4</div>
<div class="abs ax" style="right:686.7px;top:846.20px;line-height:12px;font-size:9.5px;color:#444">6</div>
<div class="abs ax" style="right:686.7px;top:817.86px;line-height:12px;font-size:9.5px;color:#444">8</div>
<div class="abs ax" style="right:686.7px;top:789.53px;line-height:12px;font-size:9.5px;color:#444">10</div>
<div class="abs ax" style="right:686.7px;top:761.20px;line-height:12px;font-size:9.5px;color:#444">12</div>
<div class="abs ax" style="right:686.7px;top:732.86px;line-height:12px;font-size:9.5px;color:#444">14</div>
<div class="abs ax" style="right:686.7px;top:704.53px;line-height:12px;font-size:9.5px;color:#444">16</div>
<div class="abs ax" style="right:686.7px;top:676.19px;line-height:12px;font-size:9.5px;color:#444">18</div>
<div class="abs ax" style="right:686.7px;top:647.86px;line-height:12px;font-size:9.5px;color:#444">20</div>
<div class="abs ax" style="right:686.7px;top:619.53px;line-height:12px;font-size:9.5px;color:#444">22</div>
<div class="abs ax" style="right:686.7px;top:591.19px;line-height:12px;font-size:9.5px;color:#444">24</div>
<div class="abs ax" style="left:114.70px;width:40px;text-align:center;top:943px;letter-spacing:1.5px;text-indent:1.5px">阳江</div>
<div class="abs ax" style="left:141.66px;width:40px;text-align:center;top:943px;letter-spacing:1.5px;text-indent:1.5px">汕尾</div>
<div class="abs ax" style="left:168.62px;width:40px;text-align:center;top:943px;letter-spacing:1.5px;text-indent:1.5px">云浮</div>
<div class="abs ax" style="left:195.58px;width:40px;text-align:center;top:943px;letter-spacing:1.5px;text-indent:1.5px">潮州</div>
<div class="abs ax" style="left:222.54px;width:40px;text-align:center;top:943px;letter-spacing:1.5px;text-indent:1.5px">清远</div>
<div class="abs ax" style="left:249.50px;width:40px;text-align:center;top:943px;letter-spacing:1.5px;text-indent:1.5px">珠海</div>
<div class="abs ax" style="left:276.46px;width:40px;text-align:center;top:943px;letter-spacing:1.5px;text-indent:1.5px">茂名</div>
<div class="abs ax" style="left:303.42px;width:40px;text-align:center;top:943px;letter-spacing:1.5px;text-indent:1.5px">湛江</div>
<div class="abs ax" style="left:330.38px;width:40px;text-align:center;top:943px;letter-spacing:1.5px;text-indent:1.5px">汕头</div>
<div class="abs ax" style="left:357.34px;width:40px;text-align:center;top:943px;letter-spacing:1.5px;text-indent:1.5px">顺德</div>
<div class="abs ax" style="left:384.30px;width:40px;text-align:center;top:943px;letter-spacing:1.5px;text-indent:1.5px">揭阳</div>
<div class="abs ax" style="left:411.26px;width:40px;text-align:center;top:943px;letter-spacing:1.5px;text-indent:1.5px">梅州</div>
<div class="abs ax" style="left:438.22px;width:40px;text-align:center;top:943px;letter-spacing:1.5px;text-indent:1.5px">肇庆</div>
<div class="abs ax" style="left:465.18px;width:40px;text-align:center;top:943px;letter-spacing:1.5px;text-indent:1.5px">河源</div>
<div class="abs ax" style="left:492.14px;width:40px;text-align:center;top:943px;letter-spacing:1.5px;text-indent:1.5px">江门</div>
<div class="abs ax" style="left:519.10px;width:40px;text-align:center;top:943px;letter-spacing:1.5px;text-indent:1.5px">韶关</div>
<div class="abs ax" style="left:546.06px;width:40px;text-align:center;top:943px;letter-spacing:1.5px;text-indent:1.5px">惠州</div>
<div class="abs ax" style="left:573.02px;width:40px;text-align:center;top:943px;letter-spacing:1.5px;text-indent:1.5px">中山</div>
<div class="abs ax" style="left:599.98px;width:40px;text-align:center;top:943px;letter-spacing:1.5px;text-indent:1.5px">佛山</div>
<div class="abs ax" style="left:626.94px;width:40px;text-align:center;top:943px;letter-spacing:1.5px;text-indent:1.5px">东莞</div>
<div class="abs ax" style="left:653.90px;width:40px;text-align:center;top:943px;letter-spacing:1.5px;text-indent:1.5px">深圳</div>
<div class="abs ax" style="left:680.86px;width:40px;text-align:center;top:943px;letter-spacing:1.5px;text-indent:1.5px">广州</div>
<div class="abs ax" style="left:630px;top:628.3px;font-size:8px;letter-spacing:0.35px;color:#555">2014年</div>
<div class="abs ax" style="left:630px;top:643.3px;font-size:8px;letter-spacing:0.35px;color:#555">2013年</div>
<div class="abs cap" style="left:275px;top:969.6px;font-size:12px;letter-spacing:1.43px">图20</div>
<div class="abs cap" style="left:318px;top:969.6px;font-size:12px;letter-spacing:1.71px">2014年各市废污水排放量与上年比较</div>
<div class="abs" style="left:383.4px;top:1032.9px;width:29.6px;height:31px;border-radius:50%;background:#157e3c"></div>
<div class="abs" style="left:384.6px;top:1034.5px;width:29.4px;text-align:center;font-size:14px;color:#f0f0f0;line-height:14px;letter-spacing:-0.6px;-webkit-text-stroke:0.2px #f0f0f0">21</div></body></html>
